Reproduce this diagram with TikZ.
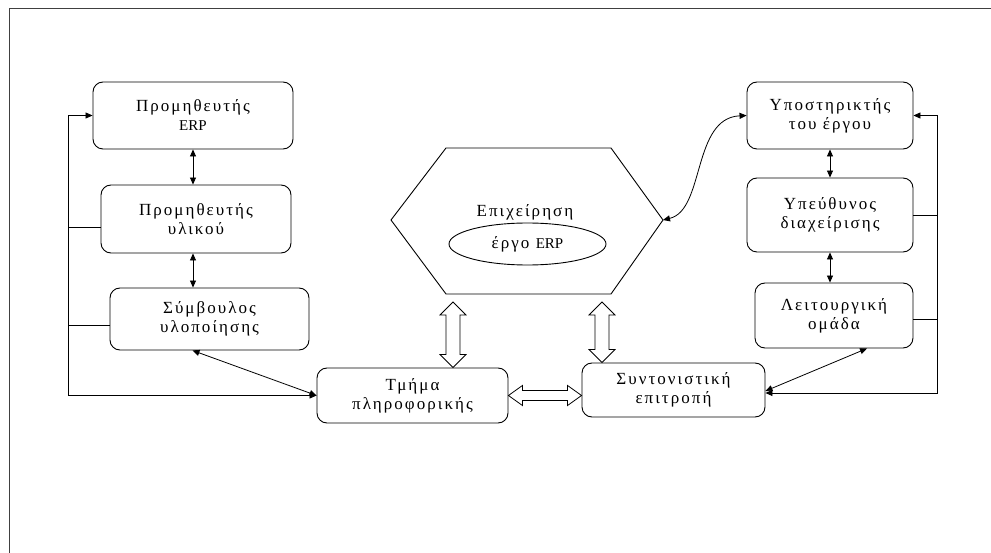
\documentclass[tikz,border=0pt]{standalone}
\usepackage{fontspec}
\setmainfont{Liberation Serif}[LetterSpace=12]
\newfontfamily\latinfont{Liberation Serif}
\newcommand\erp{{\latinfont\fontsize{15}{19}\selectfont ERP}}
\usetikzlibrary{arrows.meta,calc,shapes.geometric}

\tikzset{
  x=1pt, y=-1pt,
  box/.style={draw, rounded corners=10pt, line width=0.9pt, align=center,
    font=\fontsize{17}{19}\selectfont, inner sep=0pt},
  wire/.style={line width=0.8pt},
  both/.style={wire, {Triangle[length=7pt,width=6pt]}-{Triangle[length=7pt,width=6pt]}},
  hollow/.style={draw, line width=0.8pt, fill=white, line join=miter},
  txt/.style={font=\fontsize{17}{19}\selectfont, inner sep=0pt},
}

% vertical hollow double arrow between two tips on the same vertical
\newcommand\vdarrow[2]{%
  \draw[hollow] let \p1=(#1), \p2=(#2) in
    (\x1,\y1) -- (\x1+13pt,\y1-13pt) -- (\x1+7pt,\y1-13pt) -- (\x1+7pt,\y2+13pt)
    -- (\x1+13pt,\y2+13pt) -- (\x1,\y2) -- (\x1-13pt,\y2+13pt) -- (\x1-7pt,\y2+13pt)
    -- (\x1-7pt,\y1-13pt) -- (\x1-13pt,\y1-13pt) -- cycle;}
% horizontal hollow double arrow between two tips on the same horizontal
\newcommand\hdarrow[2]{%
  \draw[hollow] let \p1=(#1), \p2=(#2) in
    (\x1,\y1) -- (\x1+14pt,\y1+10pt) -- (\x1+14pt,\y1+5pt) -- (\x2-14pt,\y1+5pt)
    -- (\x2-14pt,\y1+10pt) -- (\x2,\y1) -- (\x2-14pt,\y1-10pt) -- (\x2-14pt,\y1-5pt)
    -- (\x1+14pt,\y1-5pt) -- (\x1+14pt,\y1-10pt) -- cycle;}

\begin{document}
\begin{tikzpicture}
\useasboundingbox[fill=white] (0,0) rectangle (991,553);

% page frame
\draw[line width=0.9pt, black!75] (9,553) -- (9,8) -- (991,8);

% left column
\node[box, minimum width=200pt, minimum height=67pt] (erp) at (193,115.5) {Προμηθευτής\\\erp};
\node[box, minimum width=190pt, minimum height=68pt] (ul) at (196,219) {Προμηθευτής\\υλικού};
\node[box, minimum width=199pt, minimum height=62pt] (sy) at (209.5,319) {Σύμβουλος\\υλοποίησης};

% bottom row
\node[box, minimum width=191pt, minimum height=55pt] (tm) at (412.5,395.5) {Τμήμα\\πληροφορικής};
\node[box, minimum width=183pt, minimum height=54pt] (sx) at (673.5,390) {Συντονιστική\\επιτροπή};

% right column
\node[box, minimum width=166pt, minimum height=67pt] (yp) at (830,115.5) {Υποστηρικτής\\του έργου};
\node[box, minimum width=166pt, minimum height=74pt] (ue) at (830,215) {Υπεύθυνος\\διαχείρισης};
\node[box, minimum width=158pt, minimum height=65pt] (lo) at (834,315.5) {Λειτουργική\\ομάδα};

% company hexagon with the ERP project inside
\coordinate (h1) at (446,148);
\coordinate (h2) at (611,148);
\coordinate (hr) at (663,220);
\coordinate (h4) at (611,294);
\coordinate (h5) at (446,294);
\coordinate (hl) at (391,220);
\draw[line width=0.9pt] (h1) -- (h2) -- (hr) -- (h4) -- (h5) -- (hl) -- cycle;
\node[txt] (ep) at (525,212) {Επιχείρηση};
\node[draw, ellipse, line width=0.9pt, minimum width=157pt, minimum height=42pt,
      txt, inner sep=0pt] (pr) at (527.5,244) {έργο \erp};

% links along the left column
\draw[both] (erp.south) -- (ul.north -| erp.south);
\draw[both] (ul.south -| erp.south) -- (sy.north -| erp.south);
\coordinate (lbus) at (68,0);
\draw[both] (erp.west) -- (erp.west -| lbus) -- (tm.west -| lbus) -- (tm.west);
\draw[wire] ($(ul.west)+(0,8)$) -- ($(ul.west -| lbus)+(0,8)$);
\draw[wire] ($(sy.west)+(0,6)$) -- ($(sy.west -| lbus)+(0,6)$);
\draw[both] ($(sy.south)+(-17,0)$) -- (tm.west);

% links along the right column
\draw[both] (yp.south) -- (ue.north);
\draw[both] (ue.south) -- (lo.north -| ue.south);
\coordinate (rbus) at (937,0);
\draw[both] (yp.east) -- (yp.east -| rbus) -- ($(sx.east -| rbus)+(0,3)$) -- ($(sx.east)+(0,3)$);
\draw[wire] (ue.east) -- (ue.east -| rbus);
\draw[wire] ($(lo.east)+(0,3.5)$) -- ($(lo.east -| rbus)+(0,3.5)$);
\draw[both] ($(lo.south)+(33,0)$) -- ($(sx.east)+(0,1)$);

% curved link from the company to the project sponsor
\draw[both] (hr) .. controls (705,210) and (692,118) .. (yp.west);

% hollow double arrows
\coordinate (a1) at (453,302);
\coordinate (a2) at (602,302);
\vdarrow{a1}{tm.north -| a1}
\vdarrow{a2}{sx.north -| a2}
\hdarrow{tm.east}{tm.east -| sx.west}
\end{tikzpicture}
\end{document}
